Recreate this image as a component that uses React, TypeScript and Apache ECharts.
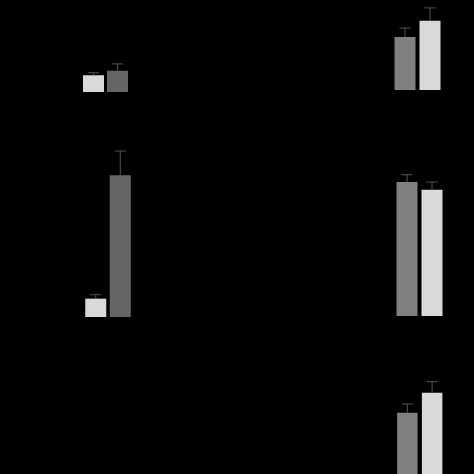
import { useEffect, useRef } from "react";
import * as echarts from "echarts";

const categories = ["Group 1", "Group 2"];

const topLeftMeans = [9.3, 11.8];
const topLeftErrors = [1.4, 3.8];
const topRightMeans = [29.4, 38.5];
const topRightErrors = [5.0, 7.1];
const midLeftMeans = [10.2, 78.7];
const midLeftErrors = [2.2, 13.5];
const midRightMeans = [74.4, 70.2];
const midRightErrors = [4.1, 4.2];
const bottomRightMeans = [71.8, 82.9];
const bottomRightErrors = [4.9, 6.2];

const LIGHT = "#d9d9d9";
const DARK = "#666666";
const MID = "#808080";
const ERR = "#555555";

const panels = [
  { means: topLeftMeans, errors: topLeftErrors, colors: [LIGHT, DARK], left: 81.5, width: 48, top: 2, height: 90, min: 0, max: 50, barWidth: 21 },
  { means: topRightMeans, errors: topRightErrors, colors: [MID, LIGHT], left: 392.5, width: 50, top: 0, height: 90, min: 0, max: 50, barWidth: 21 },
  { means: midLeftMeans, errors: midLeftErrors, colors: [LIGHT, DARK], left: 83.5, width: 49, top: 137, height: 180, min: 0, max: 100, barWidth: 21 },
  { means: midRightMeans, errors: midRightErrors, colors: [MID, LIGHT], left: 394.5, width: 50, top: 136, height: 180, min: 0, max: 100, barWidth: 21 },
  { means: bottomRightMeans, errors: bottomRightErrors, colors: [MID, LIGHT], left: 395, width: 49.5, top: 362, height: 112, min: 37.8, max: 100, barWidth: 20.5 },
];

export default function App() {
  const ref = useRef<HTMLDivElement>(null);
  useEffect(() => {
    if (!ref.current) return;
    const chart = echarts.init(ref.current, undefined, { renderer: "svg" });
    const grid: any[] = [];
    const xAxis: any[] = [];
    const yAxis: any[] = [];
    const series: any[] = [];
    panels.forEach((p, gi) => {
      grid.push({ left: p.left, top: p.top, width: p.width, height: p.height, containLabel: false });
      xAxis.push({
        type: "category",
        gridIndex: gi,
        data: categories,
        show: false,
      });
      yAxis.push({ type: "value", gridIndex: gi, min: p.min, max: p.max, show: false, splitLine: { show: false } });
      series.push({
        type: "bar",
        xAxisIndex: gi,
        yAxisIndex: gi,
        barWidth: p.barWidth,
        data: p.means.map((v, i) => ({ value: v, itemStyle: { color: p.colors[i] } })),
        z: 2,
      });
      series.push({
        type: "custom",
        xAxisIndex: gi,
        yAxisIndex: gi,
        z: 3,
        encode: { x: 0, y: 1 },
        data: p.means.map((v, i) => [i, v, p.errors[i]]),
        renderItem: (params: any, api: any) => {
          const i = api.value(0);
          const m = api.value(1);
          const e = api.value(2);
          const base = api.coord([i, m]);
          const top = api.coord([i, m + e]);
          const half = 5.5;
          return {
            type: "group",
            children: [
              { type: "line", shape: { x1: base[0], y1: base[1], x2: top[0], y2: top[1] }, style: { stroke: ERR, lineWidth: 1 } },
              { type: "line", shape: { x1: top[0] - half, y1: top[1], x2: top[0] + half, y2: top[1] }, style: { stroke: ERR, lineWidth: 1 } },
            ],
          };
        },
      });
    });
    chart.setOption({
      animation: false,
      backgroundColor: "#000000",
      grid,
      xAxis,
      yAxis,
      series,
    });
    return () => chart.dispose();
  }, []);
  return (
    <div
      ref={ref}
      style={{ position: "absolute", left: 0, top: 0, width: 474, height: 474, background: "#000" }}
    />
  );
}
